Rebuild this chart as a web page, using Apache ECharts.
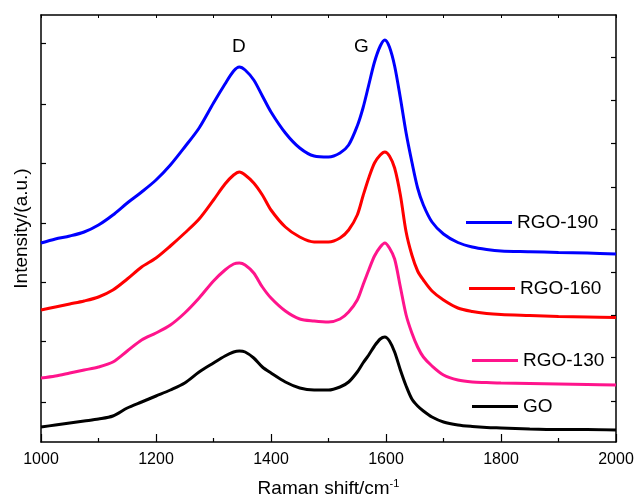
<!DOCTYPE html>
<html>
<head>
<meta charset="utf-8">
<script src="https://cdn.jsdelivr.net/npm/echarts@6/dist/echarts.min.js"></script>
<style>html,body{margin:0;padding:0;background:#fff}#c{width:634px;height:498px}</style>
</head>
<body>
<div id="c"></div>
<script>
// Raman shift (cm^-1)
var shifts = [1000,1025,1050,1075,1100,1125,1150,1175,1200,1225,1250,1275,1300,1320,1335,1345,1355,1370,1385,1400,
              1425,1450,1475,1500,1520,1535,1550,1560,1570,1580,1590,1598,1606,1615,1625,1635,1645,1655,1665,1680,
              1700,1725,1750,1775,1800,1850,1900,1950,2000];
// Intensities (a.u., offset stacked)
var rgo190 = [199,203,206,210,217,227,239,250,262,277,295,314,339,358,371,375,372,362,346,330,
              309,294,286,285,289,297,316,334,357,380,396,402,395,376,344,309,280,254,237,220,
              208,199.5,195,192.5,191,190.3,189.5,189,188];
var rgo160 = [132,135,138,141,145,152,163,175,184,196,209,223,242,258,267,270,267,259,247,232,
              215,205,200,200,204,212,227,246,264,279,287,290,286,274,247,210,187,171,162,151,
              142,134,130.5,128.5,127.5,126.5,125.5,125,124.5];
var rgo130 = [64,66,69,72,75,80,91,102,109,117,129,144,161,172,178,179,177,169,155,144,
              131,123,121,120,123,130,142,157,172,186,195,199,194,183,155,127,109,95,85,76,
              67,62,60,59.5,59,58.5,58,57.5,57];
var go     = [15,17,19,21,23,26,34,40,46,52,59,70,79,86,90,91,90,84,75,69,
              60,54,52,52,55,60,70,79,87,96,103,105,101,90,72,56,43,36,31,25,
              20,17,15.5,14.5,14,13,12.5,12.5,12];
var seriesNames = ['RGO-190','RGO-160','RGO-130','GO'];
var seriesColors = ['#0000ff','#ff0000','#ff148c','#000000'];
var leftTicks = [40,101,160,219,279,338,399];
var rightTicks = [41,85,127,170,213,255,299,342,385];
var peakLabels = [{name:'D', x:1344, y:395},{name:'G', x:1557, y:395}];

var FONT = "'Liberation Sans', Arial, sans-serif";
function pairs(vals){ return shifts.map(function(s,i){ return [s, vals[i]]; }); }
var allVals = [rgo190, rgo160, rgo130, go];

var legendPos = [
  {left:466, top:213},
  {left:469, top:279},
  {left:472, top:351},
  {left:472, top:397}
];

var chart = echarts.init(document.getElementById('c'), null, {renderer:'canvas'});
var option = {
  backgroundColor:'#fff',
  animation:false,
  grid:{left:41,right:18,top:15,bottom:56,containLabel:false,outerBoundsMode:'none'},
  legend: seriesNames.map(function(n,i){
    return {data:[{name:n, icon:'rect'}], left:legendPos[i].left, top:legendPos[i].top, padding:0,
      itemWidth:46, itemHeight:3, textStyle:{fontFamily:FONT, fontSize:19, color:'#000'}};
  }),
  xAxis:[{
    type:'value', min:1000, max:2000, interval:200, position:'bottom',
    axisLine:{show:true, onZero:false, lineStyle:{color:'#000', width:1.5}},
    axisTick:{show:true, inside:true, length:8, lineStyle:{color:'#000', width:1.2}},
    minorTick:{show:true, splitNumber:2, length:4, lineStyle:{color:'#000', width:1.2}},
    splitLine:{show:false},
    axisLabel:{fontFamily:FONT, fontSize:16, color:'#000', margin:10, formatter:function(v){return String(v);}},
    name:'Raman shift/cm{sup|-1}', nameLocation:'middle', nameGap:36,
    nameTextStyle:{fontFamily:FONT, fontSize:19, color:'#000',
      rich:{sup:{fontFamily:FONT, fontSize:11, color:'#000', verticalAlign:'top', padding:[0,0,10,0]}}}
  },{
    type:'value', min:1000, max:2000, interval:100, position:'top',
    axisLine:{show:true, onZero:false, lineStyle:{color:'#000', width:1.5}},
    axisTick:{show:true, inside:true, length:3, lineStyle:{color:'#000', width:1}},
    axisLabel:{show:false}, splitLine:{show:false}
  }],
  yAxis:[{
    type:'value', min:0, max:427, position:'left',
    axisLine:{show:true, onZero:false, lineStyle:{color:'#000', width:1.5}},
    axisTick:{show:true, inside:true, length:5, customValues:leftTicks, lineStyle:{color:'#000', width:1.2}},
    axisLabel:{show:false}, splitLine:{show:false},
    name:'Intensity/(a.u.)', nameLocation:'middle', nameGap:10,
    nameTextStyle:{fontFamily:FONT, fontSize:19, color:'#000'}
  },{
    type:'value', min:0, max:427, position:'right',
    axisLine:{show:true, onZero:false, lineStyle:{color:'#000', width:1.5}},
    axisTick:{show:true, inside:true, length:5, customValues:rightTicks, lineStyle:{color:'#000', width:1.2}},
    axisLabel:{show:false}, splitLine:{show:false}
  }],
  series: seriesNames.map(function(n,i){
    var s = {
      name:n, type:'line', xAxisIndex:0, yAxisIndex:0, data:pairs(allVals[i]),
      showSymbol:false, symbol:'none', smooth:0.3,
      lineStyle:{color:seriesColors[i], width:3}, itemStyle:{color:seriesColors[i]}
    };
    if(i===0){
      s.markPoint = {
        symbol:'circle', symbolSize:1, itemStyle:{color:'rgba(0,0,0,0)'},
        label:{show:true, position:'inside', formatter:'{b}', fontFamily:FONT, fontSize:19, color:'#000'},
        data: peakLabels.map(function(p){ return {name:p.name, coord:[p.x, p.y]}; })
      };
    }
    return s;
  })
};
chart.setOption(option);
</script>
</body>
</html>
